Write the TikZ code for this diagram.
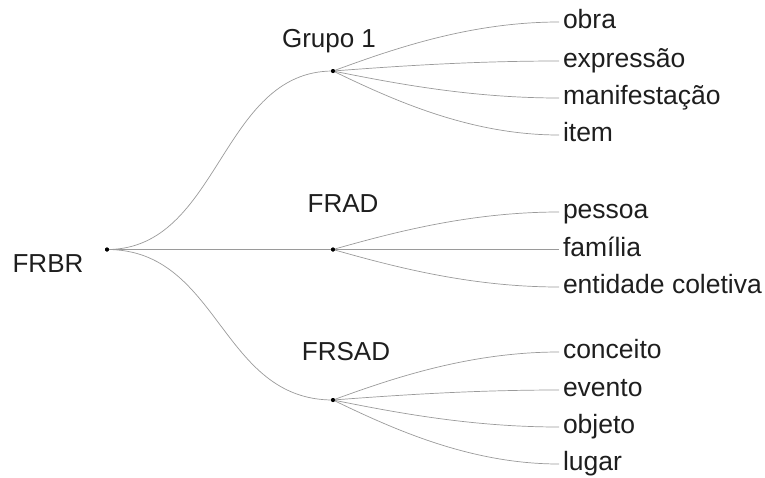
\documentclass[tikz,border=0pt]{standalone}
\usepackage{fontspec}
\setmainfont{Liberation Sans}
\definecolor{linegray}{HTML}{9A9A9A}
\definecolor{textdark}{HTML}{1E1E1E}
\begin{document}
\begin{tikzpicture}[x=1pt,y=-1pt,
  conn/.style={draw=linegray,line width=0.7pt},
  dotnode/.style={circle,fill=black,inner sep=0pt,minimum size=4pt},
  leaf/.style={anchor=base west,inner xsep=4pt,inner ysep=0pt,outer sep=0pt,text=textdark,font=\fontsize{26.5}{30}\selectfont},
  grouplabel/.style={anchor=base,inner sep=0pt,text=textdark,font=\fontsize{26}{30}\selectfont}]
\useasboundingbox (0,0) rectangle (765,477);
% dots
\node[dotnode] (root) at (107,249.5) {};
\node[dotnode] (g1) at (333,71) {};
\node[dotnode] (frad) at (333,249.5) {};
\node[dotnode] (frsad) at (333,400) {};
% labels
\node[grouplabel] (lroot) at (48,272) {FRBR};
\node[grouplabel] (lg1) at (329,47) {Grupo 1};
\node[grouplabel] (lfrad) at (343,212) {FRAD};
\node[grouplabel] (lfrsad) at (346,360) {FRSAD};
% leaves (baseline 6.75 below the connector)
\node[leaf] (obra) at (559,28.75) {obra};
\node[leaf] (expr) at (559,67.75) {expressão};
\node[leaf] (manif) at (559,104.75) {manifestação};
\node[leaf] (item) at (559,141.75) {item};
\node[leaf] (pessoa) at (559,218.75) {pessoa};
\node[leaf] (familia) at (559,256.25) {família};
\node[leaf] (entidade) at (559,293.75) {entidade coletiva};
\node[leaf] (conceito) at (559,358.75) {conceito};
\node[leaf] (evento) at (559,396.75) {evento};
\node[leaf] (objeto) at (559,433.75) {objeto};
\node[leaf] (lugar) at (559,470.75) {lugar};
\tikzset{tip/.style={yshift=6.75pt}}
% root connectors
\draw[conn] (root.center) .. controls (220,249.5) and (220,71) .. (g1.center);
\draw[conn] (root.center) -- (frad.center);
\draw[conn] (root.center) .. controls (220,249.5) and (220,400) .. (frsad.center);
% group 1
\draw[conn] (g1.center) .. controls (393,49) and (470,22) .. ([tip]obra.base west);
\draw[conn] (g1.center) .. controls (393,66.5) and (470,61) .. ([tip]expr.base west);
\draw[conn] (g1.center) .. controls (393,83) and (470,98) .. ([tip]manif.base west);
\draw[conn] (g1.center) .. controls (393,100) and (470,135) .. ([tip]item.base west);
% FRAD
\draw[conn] (frad.center) .. controls (393,232.5) and (470,212) .. ([tip]pessoa.base west);
\draw[conn] (frad.center) -- ([tip]familia.base west);
\draw[conn] (frad.center) .. controls (393,266.5) and (470,287) .. ([tip]entidade.base west);
% FRSAD
\draw[conn] (frsad.center) .. controls (393,378) and (470,352) .. ([tip]conceito.base west);
\draw[conn] (frsad.center) .. controls (393,395.5) and (470,390) .. ([tip]evento.base west);
\draw[conn] (frsad.center) .. controls (393,412) and (470,427) .. ([tip]objeto.base west);
\draw[conn] (frsad.center) .. controls (393,429) and (470,464) .. ([tip]lugar.base west);
% redraw dots on top
\fill (root) circle (2pt);
\fill (g1) circle (2pt);
\fill (frad) circle (2pt);
\fill (frsad) circle (2pt);
\end{tikzpicture}
\end{document}
